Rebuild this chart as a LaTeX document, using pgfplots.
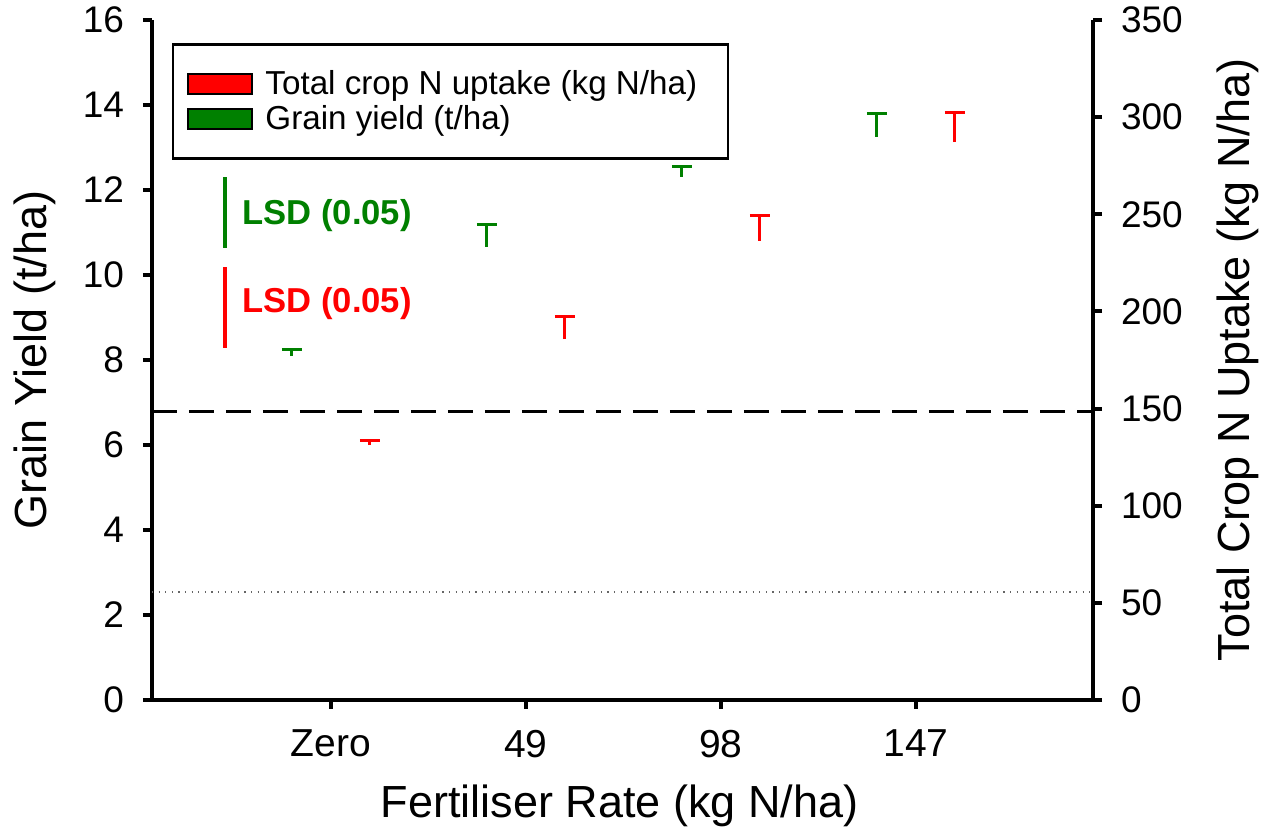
\documentclass[border=0pt]{standalone}
\usepackage{pgfplots}
\pgfplotsset{compat=1.18}
\usepackage{fontspec}
\setmainfont{Liberation Sans}
\definecolor{cgreen}{RGB}{0,128,0}
\definecolor{cred}{RGB}{255,0,0}
\pgfplotsset{
  common/.style={
    scale only axis, width=470.5pt, height=340pt,
    xmin=-0.918, xmax=3.908,
    /pgf/number format/assume math mode=true,
    tick style={line width=2pt, black},
    major tick length=4.5pt,
    tick align=outside,
    axis line style={line width=2.4pt, -},
    clip=false,
  },
  errgreen/.style={ybar, bar width=10pt, bar shift=0pt, draw=none, fill=none,
    error bars/.cd, y dir=plus, y explicit, error mark=|,
    error bar style={draw=cgreen, line width=1.5pt},
    error mark options={draw=cgreen, line width=1.5pt, mark size=5pt}},
  errred/.style={ybar, bar width=10pt, bar shift=0pt, draw=none, fill=none,
    error bars/.cd, y dir=plus, y explicit, error mark=|,
    error bar style={draw=cred, line width=1.5pt},
    error mark options={draw=cred, line width=1.5pt, mark size=5pt}},
}
\begin{document}
\begin{tikzpicture}
\begin{axis}[common, name=ax,
  ymin=0, ymax=16, ytick={0,2,...,16},
  axis x line*=bottom, axis y line*=left,
  xtick={0,1,2,3}, xticklabels={Zero,49,98,147},
  x tick label style={font=\fontsize{19.5}{19.5}\selectfont, yshift=-7pt},
  y tick label style={font=\fontsize{18.5}{18.5}\selectfont, xshift=-6pt},
  xlabel={Fertiliser Rate (kg N/ha)},
  ylabel={Grain Yield (t/ha)},
  every axis x label/.style={at={(axis description cs:0.497,-0.156)}, anchor=center, font=\fontsize{22.5}{22.5}\selectfont},
  every axis y label/.style={at={(axis description cs:-0.1243,0.5)}, rotate=90, anchor=center, font=\fontsize{22.5}{22.5}\selectfont},
]
% grain yield (bars invisible, upper error bars only)
\addplot[errgreen] coordinates {
  (-0.2,8.09) +- (0,0.16)
  (0.8,10.66) +- (0,0.52)
  (1.8,12.31) +- (0,0.24)
  (2.8,13.25) +- (0,0.54)
};
% reference lines
\addplot[black, line width=1.5pt, dash pattern=on 12.5pt off 6pt] coordinates {(-0.918,6.78) (3.908,6.78)};
\addplot[black!60, line width=0.6pt, dash pattern=on 0.6pt off 2.7pt] coordinates {(-0.918,2.54) (3.908,2.54)};
% LSD green
\addplot[cgreen, line width=2pt] coordinates {(-0.544,10.64) (-0.544,12.31)};
\node[anchor=west, text=cgreen, font=\bfseries\fontsize{17.3}{17.3}\selectfont, inner sep=0pt] at (axis cs:-0.456,11.39) {LSD (0.05)};
\node[anchor=west, text=cred, font=\bfseries\fontsize{17.3}{17.3}\selectfont, inner sep=0pt] at (axis cs:-0.456,9.32) {LSD (0.05)};
\end{axis}
\begin{axis}[common,
  ymin=0, ymax=350, ytick={0,50,...,350},
  axis y line*=right, axis x line=none,
  y tick label style={font=\fontsize{18.5}{18.5}\selectfont, xshift=6pt},
  ylabel={Total Crop N Uptake (kg N/ha)},
  every axis y label/.style={at={(axis description cs:1.154,0.5)}, rotate=90, anchor=center, font=\fontsize{22.5}{22.5}\selectfont},
  legend style={at={(0.0213,0.966)}, anchor=north west, draw=black, line width=1.2pt,
    font=\fontsize{16.6}{18}\selectfont, inner xsep=7pt, inner ysep=11pt,
    row sep=0pt, cells={anchor=west}},
  legend cell align=left,
]
\addlegendimage{legend image code/.code={\draw[fill=cred, draw=black, line width=1pt] (0pt,-5pt) rectangle (32pt,5pt); \path (36pt,0pt);}}
\addlegendentry{Total crop N uptake (kg N/ha)\hspace*{6.5pt}}
\addlegendimage{legend image code/.code={\draw[fill=cgreen, draw=black, line width=1pt] (0pt,-5pt) rectangle (32pt,5pt); \path (36pt,0pt);}}
\addlegendentry{Grain yield (t/ha)}
\addplot[forget plot, errred] coordinates {
  (0.2,131.2) +- (0,2.2)
  (1.2,185.8) +- (0,11.5)
  (2.2,236.4) +- (0,13.2)
  (3.2,287.2) +- (0,15.3)
};
\addplot[cred, line width=2pt, forget plot] coordinates {(-0.544,181.2) (-0.544,222.9)};
\end{axis}
\pgfresetboundingbox
\path ([xshift=-76pt,yshift=-67.5pt]ax.south west) ([xshift=84pt,yshift=10pt]ax.north east);
\end{tikzpicture}
\end{document}
